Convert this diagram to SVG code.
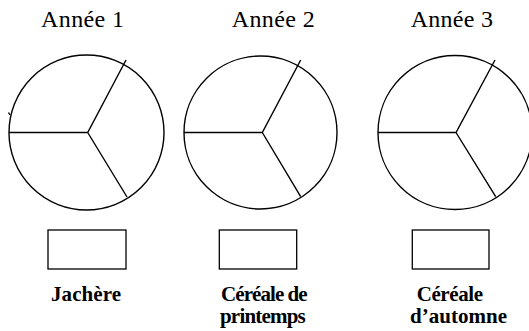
<svg xmlns="http://www.w3.org/2000/svg" width="529" height="331" viewBox="0 0 529 331">
<style>
.c{fill:none;stroke:#000;stroke-width:1.4}
.b{fill:#fff;stroke:#000;stroke-width:1.3}
.t{font-family:"Liberation Serif","Times New Roman",serif;font-size:24px;fill:#000}
.l{font-family:"Liberation Serif","Times New Roman",serif;font-size:21px;font-weight:bold;fill:#000}
</style>
<rect width="529" height="331" fill="#fff"/>
<g id="year1">
<text class="t" x="41" y="27" textLength="83" lengthAdjust="spacing">Année 1</text>
<circle class="c" cx="86.5" cy="132.5" r="77.5"/>
<path class="c" d="M9 132.5H87.7L126 60M87.7 132.5L127 197M8.5 112.5L10 115"/>
<rect class="b" x="48" y="230" width="78" height="39"/>
<text class="l" x="51" y="300.7" textLength="70" lengthAdjust="spacing">Jachère</text>
</g>
<g id="year2">
<text class="t" x="231.7" y="27" textLength="83" lengthAdjust="spacing">Année 2</text>
<circle class="c" cx="260.5" cy="132.5" r="76.5"/>
<path class="c" d="M184 132.5H262.3L300.7 60M262.3 132.5L300.7 196.7"/>
<rect class="b" x="219.3" y="230" width="77.4" height="39"/>
<text class="l" x="221" y="300.7" textLength="86.7" lengthAdjust="spacing">Céréale de</text>
<text class="l" x="220" y="322.7" textLength="85.7" lengthAdjust="spacing">printemps</text>
</g>
<g id="year3">
<text class="t" x="410.7" y="27" textLength="82.3" lengthAdjust="spacing">Année 3</text>
<circle class="c" cx="455" cy="132.5" r="77"/>
<path class="c" d="M378 132.5H456L495 60M456 132.5L495.7 196.7"/>
<rect class="b" x="412.3" y="230" width="76.7" height="39"/>
<text class="l" x="416.7" y="300.7" textLength="66.3" lengthAdjust="spacing">Céréale</text>
<text class="l" x="410" y="322.7" textLength="97" lengthAdjust="spacing">d’automne</text>
</g>
<g id="connectors"></g>
</svg>
